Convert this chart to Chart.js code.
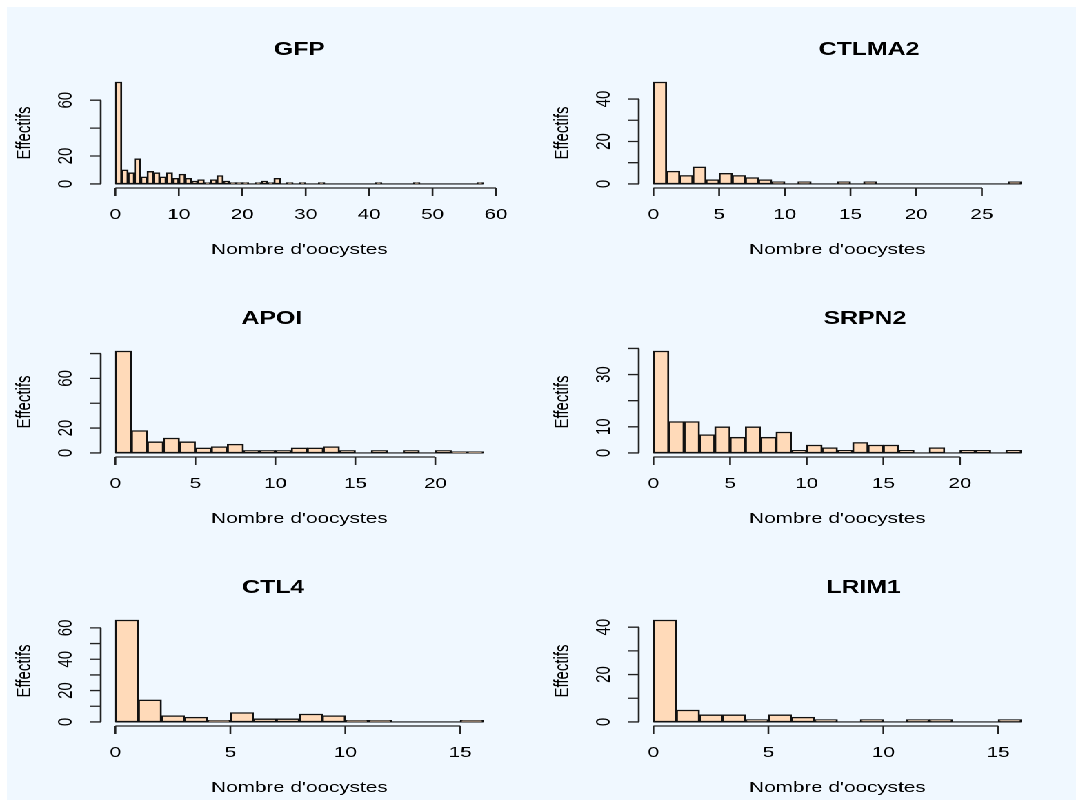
<!DOCTYPE html>
<html>
<head>
<meta charset="utf-8">
<script src="https://cdn.jsdelivr.net/npm/chart.js@4.4.1/dist/chart.umd.min.js"></script>
<style>
  html, body { margin: 0; padding: 0; background: #fff; }
  #bg { position: absolute; left: 7px; top: 7px; width: 1069px; height: 793px; background: #F0F8FF; }
  /* the reference is stretched sideways, so draw narrow and widen */
  #wrap { position: absolute; left: 0; top: 0; width: 780px; height: 809px; transform: scaleX(1.3795); transform-origin: 0 0; }
  #wrap canvas { position: absolute; }
</style>
</head>
<body>
<div id="bg"></div>
<div id="wrap">
  <canvas id="c0" width="390" height="270" style="left:0px;top:0px"></canvas>
  <canvas id="c1" width="390" height="270" style="left:390px;top:0px"></canvas>
  <canvas id="c2" width="390" height="270" style="left:0px;top:269px"></canvas>
  <canvas id="c3" width="390" height="270" style="left:390px;top:269px"></canvas>
  <canvas id="c4" width="390" height="270" style="left:0px;top:538px"></canvas>
  <canvas id="c5" width="390" height="270" style="left:390px;top:538px"></canvas>
</div>
<script>
// counts per bin of width 1, starting at 0
const gfpCounts = [73, 10, 8, 18, 5, 9, 8, 5, 8, 4, 7, 4, 2, 3, 1, 3, 6, 2, 1, 1,
  1, 0, 1, 2, 1, 4, 0, 1, 0, 1, 0, 0, 1, 0, 0, 0, 0, 0, 0, 0,
  0, 1, 0, 0, 0, 0, 0, 1, 0, 0, 0, 0, 0, 0, 0, 0, 0, 1];
const ctlma2Counts = [48, 6, 4, 8, 2, 5, 4, 3, 2, 1, 0, 1, 0, 0, 1, 0, 1, 0, 0, 0,
  0, 0, 0, 0, 0, 0, 0, 1];
const apoiCounts = [82, 18, 9, 12, 9, 4, 5, 7, 2, 2, 2, 4, 4, 5, 2, 0, 2, 0, 2, 0, 2, 1, 1];
const srpn2Counts = [39, 12, 12, 7, 10, 6, 10, 6, 8, 1, 3, 2, 1, 4, 3, 3, 1, 0, 2, 0, 1, 1, 0, 1];
const ctl4Counts = [65, 14, 4, 3, 1, 6, 2, 2, 5, 4, 1, 1, 0, 0, 0, 1];
const lrim1Counts = [43, 5, 3, 3, 1, 3, 2, 1, 0, 1, 0, 1, 1, 0, 0, 1];

const titles = ['GFP', 'CTLMA2', 'APOI', 'SRPN2', 'CTL4', 'LRIM1'];
const xLabel = "Nombre d'oocystes";
const yLabel = 'Effectifs';

const gfpXTicks = [0, 10, 20, 30, 40, 50, 60];
const ctlma2XTicks = [0, 5, 10, 15, 20, 25];
const apoiXTicks = [0, 5, 10, 15, 20];
const srpn2XTicks = [0, 5, 10, 15, 20];
const ctl4XTicks = [0, 5, 10, 15];
const lrim1XTicks = [0, 5, 10, 15];

const gfpYTicks = [0, 20, 40, 60];
const ctlma2YTicks = [0, 10, 20, 30, 40];
const apoiYTicks = [0, 20, 40, 60, 80];
const srpn2YTicks = [0, 10, 20, 30, 40];
const ctl4YTicks = [0, 10, 20, 30, 40, 50, 60];
const lrim1YTicks = [0, 10, 20, 30, 40];

const gfpYLabels = [0, 20, 60];
const ctlma2YLabels = [0, 20, 40];
const apoiYLabels = [0, 20, 60];
const srpn2YLabels = [0, 10, 30];
const ctl4YLabels = [0, 20, 40, 60];
const lrim1YLabels = [0, 20, 40];

const allCounts = [gfpCounts, ctlma2Counts, apoiCounts, srpn2Counts, ctl4Counts, lrim1Counts];
const allXTicks = [gfpXTicks, ctlma2XTicks, apoiXTicks, srpn2XTicks, ctl4XTicks, lrim1XTicks];
const allYTicks = [gfpYTicks, ctlma2YTicks, apoiYTicks, srpn2YTicks, ctl4YTicks, lrim1YTicks];
const allYLabels = [gfpYLabels, ctlma2YLabels, apoiYLabels, srpn2YLabels, ctl4YLabels, lrim1YLabels];

const FONT = '"Liberation Sans", Arial, sans-serif';
// titles are not quite centred in the reference
const titleShift = [0, 23, -20, 20, -19, 19];

// R style axes: detached lines from first to last tick, rotated y labels
const rAxes = {
  id: 'rAxes',
  beforeDatasetsDraw(chart) {
    const {ctx, scales: {x, y}} = chart;
    const n = chart.data.datasets[0].data.length;
    ctx.save();
    ctx.strokeStyle = '#111';
    ctx.lineWidth = 1.2;
    ctx.beginPath();
    ctx.moveTo(x.getPixelForValue(0), y.getPixelForValue(0));
    ctx.lineTo(x.getPixelForValue(n), y.getPixelForValue(0));
    ctx.stroke();
    ctx.restore();
  },
  afterDraw(chart, args, opts) {
    const {ctx, chartArea: a, scales: {x, y}} = chart;
    const xt = opts.xTicks, yt = opts.yTicks;
    ctx.save();
    ctx.strokeStyle = '#222';
    ctx.fillStyle = '#000';
    ctx.lineWidth = 1.3;
    ctx.beginPath();
    ctx.moveTo(x.getPixelForValue(xt[0]), a.bottom);
    ctx.lineTo(x.getPixelForValue(xt[xt.length - 1]), a.bottom);
    xt.forEach(v => {
      const px = x.getPixelForValue(v);
      ctx.moveTo(px, a.bottom);
      ctx.lineTo(px, a.bottom + 8);
    });
    ctx.moveTo(a.left, y.getPixelForValue(yt[0]));
    ctx.lineTo(a.left, y.getPixelForValue(yt[yt.length - 1]));
    yt.forEach(v => {
      const py = y.getPixelForValue(v);
      ctx.moveTo(a.left, py);
      ctx.lineTo(a.left - 8, py);
    });
    ctx.stroke();

    ctx.font = '15px ' + FONT;
    ctx.textAlign = 'center';
    ctx.textBaseline = 'middle';
    xt.forEach(v => ctx.fillText(String(v), x.getPixelForValue(v), a.bottom + 27));
    ctx.fillText(opts.xLabel, (a.left + a.right) / 2, a.bottom + 62);
    opts.yLabels.forEach(v => {
      ctx.save();
      ctx.translate(a.left - 25, y.getPixelForValue(v));
      ctx.rotate(-Math.PI / 2);
      ctx.fillText(String(v), 0, 0);
      ctx.restore();
    });
    ctx.save();
    ctx.translate(a.left - 55, (a.top + a.bottom) / 2);
    ctx.rotate(-Math.PI / 2);
    ctx.fillText(opts.yLabel, 0, 0);
    ctx.restore();

    ctx.font = 'bold 18px ' + FONT;
    ctx.fillText(opts.title, (a.left + a.right) / 2 + opts.shift, a.top - 28);
    ctx.restore();
  }
};

allCounts.forEach((counts, i) => {
  const nb = counts.length;
  const top = Math.max(...counts);
  new Chart(document.getElementById('c' + i), {
    type: 'bar',
    data: {
      datasets: [{
        data: counts.map((c, k) => ({x: k + 0.5, y: c})),
        backgroundColor: '#FFDAB9',
        borderColor: '#111',
        borderWidth: 1.4,
        borderSkipped: false,
        barPercentage: 1,
        categoryPercentage: 1
      }]
    },
    options: {
      responsive: false,
      animation: false,
      devicePixelRatio: 2,
      layout: {padding: {left: 73, right: 29, top: 78, bottom: 82}},
      scales: {
        x: {type: 'linear', offset: false, min: -0.04 * nb, max: 1.04 * nb, display: false},
        y: {min: -0.04 * top, max: 1.04 * top, display: false}
      },
      plugins: {
        legend: {display: false},
        tooltip: {enabled: false},
        rAxes: {
          title: titles[i],
          shift: titleShift[i],
          xLabel: xLabel,
          yLabel: yLabel,
          xTicks: allXTicks[i],
          yTicks: allYTicks[i],
          yLabels: allYLabels[i]
        }
      }
    },
    plugins: [rAxes]
  });
});
</script>
</body>
</html>
